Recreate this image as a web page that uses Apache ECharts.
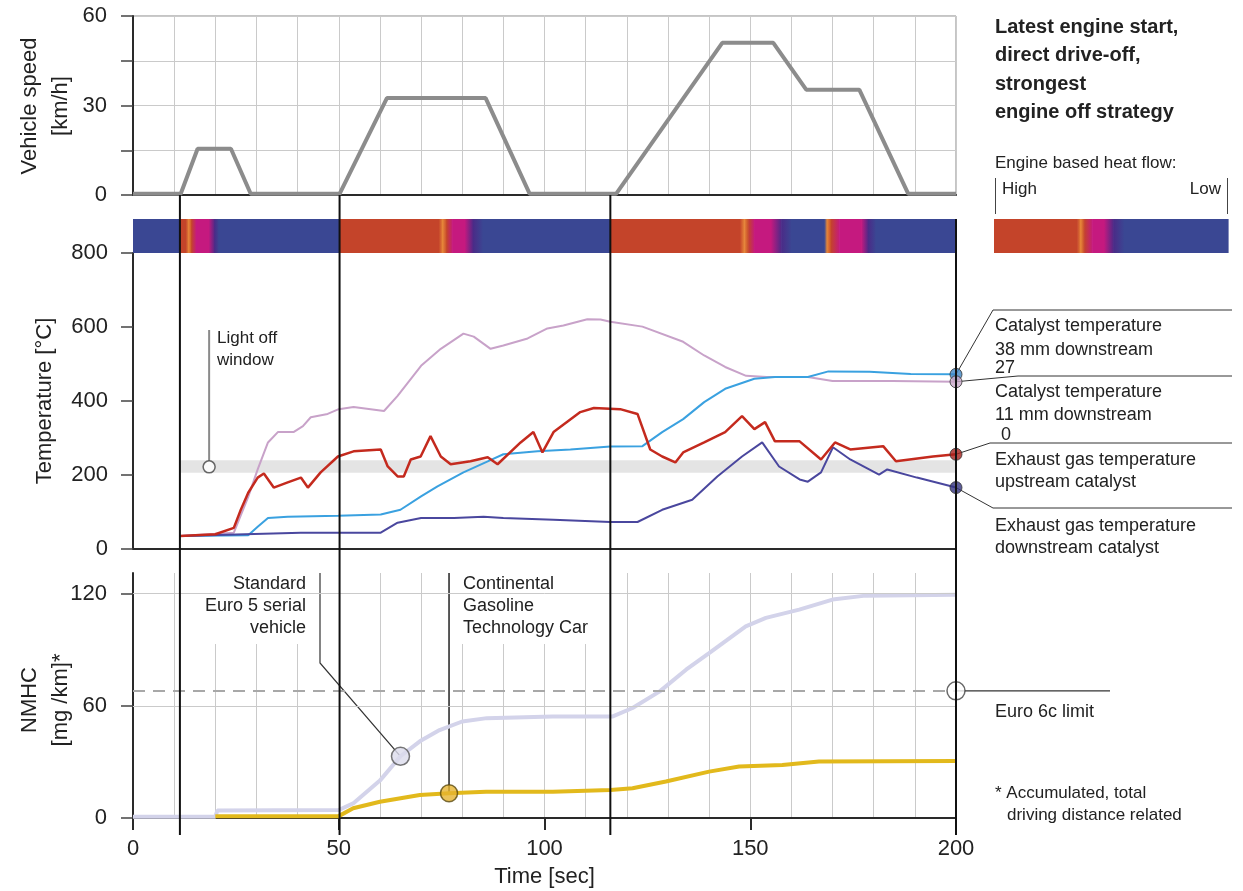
<!DOCTYPE html>
<html>
<head>
<meta charset="utf-8">
<script src="https://cdn.jsdelivr.net/npm/echarts@6/dist/echarts.min.js"></script>
<style>
html, body { margin: 0; padding: 0; background: #fff; }
#main { width: 1243px; height: 891px; }
</style>
</head>
<body>
<div id="main"></div>
<script>
var FONT = '"Liberation Sans", Arial, sans-serif';

// vehicle speed [km/h]
var speedT = [0, 11.6, 15.7, 23.8, 28.6, 50.2, 61.7, 85.7, 96.4, 117.4, 143.2, 155.6, 163.6, 176.5, 188.4, 200];
var speedV = [0.4, 0.4, 15.5, 15.5, 0.4, 0.4, 32.5, 32.5, 0.4, 0.4, 51, 51, 35.3, 35.3, 0.4, 0.4];

// engine based heat flow, level 0 = low (blue) ... 4 = high (red)
var heatT = [0, 11.4, 11.4, 12.8, 13.5, 14.2, 15.3, 18.4, 19.8, 20.8, 50.2, 50.2, 74.3, 75.2, 76.2, 77.6, 80.6, 82.6, 85, 116, 116, 147.5, 148.5, 149.5, 151, 155, 157.5, 160, 168, 168.6, 169.6, 171.6, 177, 178.6, 180.5, 200];
var heatL = [0, 0, 4, 4, 3, 4, 2, 2, 1, 0, 0, 4, 4, 3, 4, 2, 2, 1, 0, 0, 4, 4, 3, 4, 2, 2, 1, 0, 0, 3, 4, 2, 2, 1, 0, 0];
var legendX = [0, 0.355, 0.37, 0.385, 0.42, 0.47, 0.51, 0.555, 1];
var legendL = [4, 4, 3, 4, 2, 2, 1, 0, 0];
var heatColors = ['#3a4793', '#4b2a87', '#c5197f', '#e88a3a', '#c4442a'];

// temperatures [°C]
var cat11T = [11.5, 24.5, 28, 30.3, 32.8, 35.2, 39, 41.3, 43.2, 47.3, 50, 53.6, 61, 64.3, 70, 74.8, 80.3, 82.8, 86.9, 90, 95.9, 100.7, 104.6, 110.4, 113.6, 116, 123.8, 133.7, 138.8, 143.9, 149, 154, 164, 170, 184.5, 200];
var cat11V = [35, 44, 141, 215, 288, 316, 316, 332, 356, 365, 378, 384, 373, 414, 495, 541, 582, 574, 541, 550, 569, 596, 604, 621, 620, 614, 601, 560, 523, 492, 468, 465, 465, 454, 454, 452];
var cat38T = [11.5, 28, 30.3, 32.8, 37.6, 49.8, 60.2, 65, 70, 74, 80.3, 86.2, 90, 98.3, 106.3, 116, 123.8, 128.6, 133.7, 138.8, 143.9, 151, 156, 164, 169, 179, 189, 200];
var cat38V = [35, 37, 60, 84, 87, 90, 93, 106, 142, 169, 207, 237, 256, 264, 269, 277, 278, 316, 351, 397, 433, 460, 465, 465, 480, 479, 473, 472];
var exhUpT = [11.5, 20, 24.5, 26.2, 28, 30.3, 31.8, 34.2, 37.6, 40.8, 42.5, 45.6, 49.8, 53.6, 60.2, 61.9, 64.3, 65.8, 67.5, 69.9, 72.3, 74.8, 77.2, 82, 86.2, 88.6, 94.2, 97.3, 99.5, 102.2, 108.7, 112, 118.4, 122.6, 125.7, 128.6, 131.8, 133.7, 138.8, 143.9, 148, 151, 153.6, 156, 162, 167.2, 170.6, 174.3, 182.3, 185.4, 194.4, 200];
var exhUpV = [35, 40, 57, 106, 152, 193, 204, 166, 180, 193, 166, 207, 250, 264, 269, 223, 196, 196, 242, 250, 305, 250, 229, 237, 248, 229, 288, 316, 261, 316, 370, 381, 378, 365, 269, 250, 234, 261, 288, 316, 359, 324, 343, 291, 291, 242, 288, 269, 278, 237, 250, 256];
var exhDownT = [11.5, 40.8, 60.2, 64.3, 70, 78, 85.2, 90, 102.2, 116, 122.6, 128.6, 135.9, 142, 148, 152.9, 157, 162, 164, 167.2, 170.1, 174.3, 181.3, 183.3, 190.5, 200];
var exhDownV = [35, 44, 44, 71, 84, 84, 87, 84, 79, 73, 73, 106, 133, 196, 250, 288, 223, 188, 182, 207, 275, 242, 201, 215, 193, 166];
var lightOffBand = [206, 240];
var lightOffPoint = [18.5, 222];

// accumulated NMHC [mg/km]
var euro5T = [0, 20, 20.5, 50, 53.5, 60, 65, 69.7, 74.5, 80, 86, 102, 116.6, 121.4, 128, 134.4, 140, 148.9, 153.8, 161.9, 170, 178, 200];
var euro5V = [0.7, 0.7, 4, 4.3, 7.8, 20, 33, 41, 47, 51.6, 53.4, 54.3, 54.3, 58.8, 67.7, 79.3, 88.2, 102.5, 107, 111.4, 116.8, 118.9, 119.4];
var contiT = [20, 50, 53.5, 60, 69.7, 76.8, 85.8, 102, 116, 121.4, 129.5, 140, 147.3, 157.8, 166.7, 200];
var contiV = [1, 1, 5.2, 8.7, 12.3, 13.2, 14.1, 14.1, 15, 15.9, 19.5, 24.8, 27.5, 28.4, 30.2, 30.5];
var euro6cLimit = 68;
var euro5Marker = [65, 33];
var contiMarker = [76.8, 13.2];

var eventTimes = [11.4, 50.2, 116];
var nmhcTicks = [0, 60, 120];

function pairs(ts, vs) {
    return ts.map(function (t, i) { return [t, vs[i]]; });
}
function segments(xs, ls) {
    var out = [];
    for (var i = 0; i < xs.length - 1; i++) out.push([xs[i], xs[i + 1], ls[i], ls[i + 1]]);
    return out;
}
function last(ts, vs) { return [ts[ts.length - 1], vs[vs.length - 1]]; }

function heatItem(params, api) {
    var a = api.coord([api.value(0), 0]);
    var b = api.coord([api.value(1), 0]);
    var w = b[0] - a[0];
    if (w <= 0) return null;
    var c0 = heatColors[api.value(2)], c1 = heatColors[api.value(3)];
    return {
        type: 'rect',
        shape: { x: a[0], y: params.coordSys.y, width: w + 0.6, height: params.coordSys.height },
        style: { fill: new echarts.graphic.LinearGradient(0, 0, 1, 0, [{ offset: 0, color: c0 }, { offset: 1, color: c1 }]) }
    };
}

var gridLine = { color: '#cacaca', width: 1 };
var dark = { color: '#2a2a2a', width: 2 };
var tickLabel = { fontSize: 22, color: '#222', fontFamily: FONT };

var chart = echarts.init(document.getElementById('main'));

var option = {
    animation: false,
    backgroundColor: '#fff',
    grid: [
        { left: 133, top: 16, width: 823, height: 179, show: true, borderColor: '#8a8a8a', borderWidth: 1 },
        { left: 133, top: 219, width: 823, height: 34 },
        { left: 133, top: 253, width: 823, height: 296 },
        { left: 133, top: 573, width: 823, height: 245 },
        { left: 994, top: 219, width: 234, height: 34 }
    ],
    xAxis: [
        {
            gridIndex: 0, type: 'value', min: 0, max: 200, interval: 50,
            axisLine: { lineStyle: dark }, axisTick: { show: false }, axisLabel: { show: false },
            splitLine: { show: true, lineStyle: gridLine },
            minorTick: { show: false, splitNumber: 5 }, minorSplitLine: { show: true, lineStyle: gridLine }
        },
        { gridIndex: 1, type: 'value', min: 0, max: 200, show: false },
        {
            gridIndex: 2, type: 'value', min: 0, max: 200, interval: 50,
            axisLine: { lineStyle: dark }, axisTick: { show: false }, axisLabel: { show: false }, splitLine: { show: false }
        },
        {
            gridIndex: 3, type: 'value', min: 0, max: 200, interval: 50,
            axisLine: { lineStyle: dark },
            axisTick: { show: true, inside: false, length: 12, lineStyle: dark },
            axisLabel: Object.assign({ margin: 20 }, tickLabel),
            splitLine: { show: true, lineStyle: gridLine },
            minorTick: { show: false, splitNumber: 5 }, minorSplitLine: { show: true, lineStyle: gridLine },
            name: 'Time [sec]', nameLocation: 'middle', nameGap: 48,
            nameTextStyle: { fontSize: 22, color: '#222', fontFamily: FONT }
        },
        { gridIndex: 4, type: 'value', min: 0, max: 1, show: false }
    ],
    yAxis: [
        {
            gridIndex: 0, type: 'value', min: 0, max: 60, interval: 15,
            axisLine: { show: true, lineStyle: dark },
            axisTick: { show: true, length: 12, lineStyle: { color: '#444', width: 1.5 } },
            axisLabel: Object.assign({ margin: 26, formatter: function (v) { return v % 30 === 0 ? v : ''; } }, tickLabel),
            splitLine: { show: true, lineStyle: gridLine }
        },
        { gridIndex: 1, type: 'value', min: 0, max: 1, show: false },
        {
            gridIndex: 2, type: 'value', min: 0, max: 800, interval: 200,
            axisLine: { show: true, lineStyle: dark },
            axisTick: { show: true, length: 12, lineStyle: { color: '#444', width: 1.5 } },
            axisLabel: Object.assign({ margin: 25 }, tickLabel),
            splitLine: { show: false }
        },
        {
            gridIndex: 3, type: 'value', min: 0, max: 131,
            axisLine: { show: true, lineStyle: dark },
            axisTick: { show: true, length: 12, customValues: nmhcTicks, lineStyle: { color: '#444', width: 1.5 } },
            axisLabel: Object.assign({ margin: 26, customValues: nmhcTicks }, tickLabel),
            splitLine: { show: false }
        },
        { gridIndex: 4, type: 'value', min: 0, max: 1, show: false }
    ],
    series: [
        {
            type: 'line', xAxisIndex: 0, yAxisIndex: 0, data: pairs(speedT, speedV),
            symbol: 'none', lineStyle: { color: '#8c8c8c', width: 4 }, z: 3
        },
        {
            type: 'custom', xAxisIndex: 1, yAxisIndex: 1, renderItem: heatItem,
            encode: { x: [0, 1] }, data: segments(heatT, heatL), silent: true
        },
        {
            type: 'custom', xAxisIndex: 4, yAxisIndex: 4, renderItem: heatItem,
            encode: { x: [0, 1] }, data: segments(legendX, legendL), silent: true
        },
        {
            type: 'line', xAxisIndex: 2, yAxisIndex: 2, data: [], z: 1, silent: true,
            markArea: {
                silent: true, itemStyle: { color: '#e4e4e4' },
                data: [[{ xAxis: eventTimes[0], yAxis: lightOffBand[0] }, { xAxis: 200, yAxis: lightOffBand[1] }]]
            }
        },
        { type: 'line', xAxisIndex: 2, yAxisIndex: 2, data: pairs(cat11T, cat11V), symbol: 'none', lineStyle: { color: '#c8a2c9', width: 2 } },
        { type: 'line', xAxisIndex: 2, yAxisIndex: 2, data: pairs(cat38T, cat38V), symbol: 'none', lineStyle: { color: '#3aa1e0', width: 2 } },
        { type: 'line', xAxisIndex: 2, yAxisIndex: 2, data: pairs(exhDownT, exhDownV), symbol: 'none', lineStyle: { color: '#4a479e', width: 2 } },
        { type: 'line', xAxisIndex: 2, yAxisIndex: 2, data: pairs(exhUpT, exhUpV), symbol: 'none', lineStyle: { color: '#c42a1e', width: 2.5 } },
        {
            type: 'scatter', xAxisIndex: 2, yAxisIndex: 2, symbolSize: 12, z: 5,
            itemStyle: { borderColor: '#333', borderWidth: 1 },
            data: [
                { value: last(cat38T, cat38V), itemStyle: { color: '#3f86c4' } },
                { value: last(cat11T, cat11V), itemStyle: { color: '#c9a9c9' } },
                { value: last(exhUpT, exhUpV), itemStyle: { color: '#a8201c' } },
                { value: last(exhDownT, exhDownV), itemStyle: { color: '#35357f' } }
            ]
        },
        {
            type: 'scatter', xAxisIndex: 2, yAxisIndex: 2, symbolSize: 12, z: 5,
            itemStyle: { color: '#fff', borderColor: '#444', borderWidth: 1.5 },
            data: [lightOffPoint]
        },
        {
            type: 'line', xAxisIndex: 3, yAxisIndex: 3, data: [], z: 1, silent: true,
            markLine: {
                silent: true, symbol: 'none', label: { show: false },
                data: [
                    { yAxis: nmhcTicks[1], lineStyle: { color: '#cacaca', width: 1, type: 'solid' } },
                    { yAxis: nmhcTicks[2], lineStyle: { color: '#cacaca', width: 1, type: 'solid' } },
                    { yAxis: euro6cLimit, lineStyle: { color: '#a8a8a8', width: 2, type: [12, 8] } }
                ]
            }
        },
        { type: 'line', xAxisIndex: 3, yAxisIndex: 3, data: pairs(euro5T, euro5V), symbol: 'none', lineStyle: { color: '#d3d3ea', width: 4 } },
        { type: 'line', xAxisIndex: 3, yAxisIndex: 3, data: pairs(contiT, contiV), symbol: 'none', lineStyle: { color: '#e2b91c', width: 4 } },
        {
            type: 'scatter', xAxisIndex: 3, yAxisIndex: 3, z: 5,
            data: [
                { value: euro5Marker, symbolSize: 18, itemStyle: { color: '#dcdcec', borderColor: '#555', borderWidth: 1.5 } },
                { value: contiMarker, symbolSize: 17, itemStyle: { color: '#e6b431', borderColor: '#5a4a10', borderWidth: 1.5 } },
                { value: [200, euro6cLimit], symbolSize: 18, itemStyle: { color: '#fff', borderColor: '#444', borderWidth: 1.5 } }
            ]
        }
    ]
};
chart.setOption(option);

// annotations placed from the chart's own scales
function px(g, pt) { return chart.convertToPixel({ xAxisIndex: g, yAxisIndex: g }, pt); }
function seg(x1, y1, x2, y2, color, w, z) {
    return { type: 'line', z: z, silent: true, shape: { x1: x1, y1: y1, x2: x2, y2: y2 }, style: { stroke: color, lineWidth: w } };
}
function poly(points, color, w, z) {
    return { type: 'polyline', z: z, silent: true, shape: { points: points }, style: { stroke: color, lineWidth: w, fill: null } };
}
function txt(x, y, s, o) {
    o = o || {};
    return {
        type: 'text', x: x, y: y, z: o.z || 4, rotation: o.rot || 0, silent: true,
        style: {
            text: s, fill: '#222', fontFamily: FONT, fontSize: o.size || 18, fontWeight: o.weight || 'normal',
            align: o.align || 'left', verticalAlign: o.va || 'middle', lineHeight: o.lh,
            backgroundColor: o.bg, padding: o.pad
        }
    };
}

var g = [];
var yEvtTop = px(0, [0, 0])[1];
var yEvtBot = px(3, [0, 0])[1] + 17;
eventTimes.forEach(function (t) {
    var x = px(0, [t, 0])[0];
    g.push(seg(x, yEvtTop, x, yEvtBot, '#111', 2, 6));
});
var xEnd = px(0, [200, 0])[0];
g.push(seg(xEnd, px(1, [200, 1])[1], xEnd, yEvtBot, '#111', 2, 6));

// axis names
g.push(txt(30, 106, 'Vehicle speed', { size: 22, align: 'center', rot: Math.PI / 2 }));
g.push(txt(61, 106, '[km/h]', { size: 22, align: 'center', rot: Math.PI / 2 }));
g.push(txt(45, 401, 'Temperature [°C]', { size: 22, align: 'center', rot: Math.PI / 2 }));
g.push(txt(30, 700, 'NMHC', { size: 22, align: 'center', rot: Math.PI / 2 }));
g.push(txt(61, 700, '[mg /km]*', { size: 22, align: 'center', rot: Math.PI / 2 }));

// title block and heat flow legend
g.push(txt(995, 13, 'Latest engine start,\ndirect drive-off,\nstrongest\nengine off strategy', { size: 20, weight: 'bold', va: 'top', lh: 28.5 }));
g.push(txt(995, 163, 'Engine based heat flow:', { size: 17 }));
g.push(txt(1002, 189, 'High', { size: 17 }));
g.push(txt(1221, 189, 'Low', { size: 17, align: 'right' }));
g.push(seg(995.5, 178, 995.5, 214, '#444', 1, 4));
g.push(seg(1227.5, 178, 1227.5, 214, '#444', 1, 4));

// light off window
var lo = px(2, lightOffPoint);
g.push(seg(lo[0], lo[1] - 6, lo[0], 330, '#8a8a8a', 2, 4));
g.push(txt(217, 338, 'Light off', { size: 17 }));
g.push(txt(217, 360, 'window', { size: 17 }));

// temperature leaders
var m38 = px(2, last(cat38T, cat38V)), m11 = px(2, last(cat11T, cat11V));
var mUp = px(2, last(exhUpT, exhUpV)), mDn = px(2, last(exhDownT, exhDownV));
g.push(poly([m38, [993, 310], [1232, 310]], '#333', 1, 3));
g.push(poly([m11, [1018, 376], [1232, 376]], '#333', 1, 3));
g.push(poly([mUp, [990, 443], [1232, 443]], '#333', 1, 3));
g.push(poly([mDn, [993, 508], [1232, 508]], '#333', 1, 3));
g.push(txt(995, 326, 'Catalyst temperature'));
g.push(txt(995, 350, '38 mm downstream'));
g.push(txt(995, 368, '27'));
g.push(txt(995, 392, 'Catalyst temperature'));
g.push(txt(995, 415, '11 mm downstream'));
g.push(txt(1001, 435, '0'));
g.push(txt(995, 460, 'Exhaust gas temperature'));
g.push(txt(995, 482, 'upstream catalyst'));
g.push(txt(995, 526, 'Exhaust gas temperature'));
g.push(txt(995, 548, 'downstream catalyst'));

// NMHC annotations
g.push(txt(312, 573, 'Standard\nEuro 5 serial\nvehicle', { align: 'right', va: 'top', lh: 22, bg: '#fff', pad: [0, 6, 5, 10], z: 2 }));
g.push(txt(457, 573, 'Continental\nGasoline\nTechnology Car', { va: 'top', lh: 22, bg: '#fff', pad: [0, 8, 5, 6], z: 2 }));
var mE5 = px(3, euro5Marker), mCo = px(3, contiMarker), mLim = px(3, [200, euro6cLimit]);
g.push(poly([[320, 573], [320, 663], mE5], '#333', 1.2, 3));
g.push(seg(mCo[0], 573, mCo[0], mCo[1], '#222', 1.5, 3));
g.push(seg(mLim[0], mLim[1], 1110, mLim[1], '#333', 1.2, 3));
g.push(txt(995, 712, 'Euro 6c limit'));
g.push(txt(995, 793, '* Accumulated, total', { size: 17 }));
g.push(txt(1007, 815, 'driving distance related', { size: 17 }));

chart.setOption({ graphic: g });
</script>
</body>
</html>
